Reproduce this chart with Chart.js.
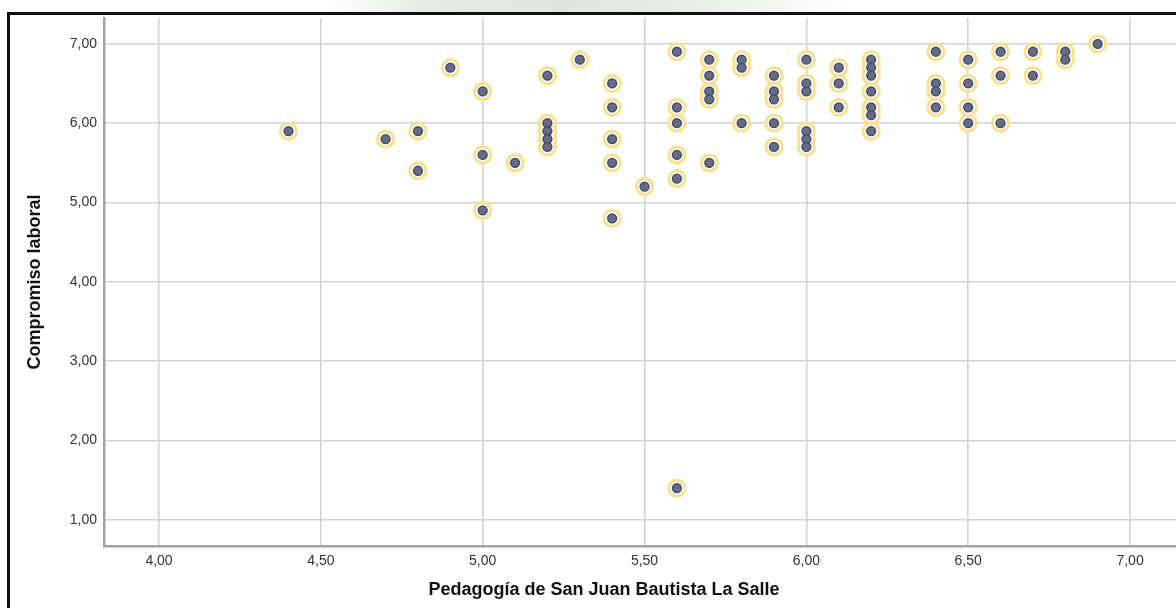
<!DOCTYPE html>
<html lang="es">
<head>
<meta charset="utf-8">
<title>Pedagogía de San Juan Bautista La Salle vs. Compromiso laboral</title>
<script src="https://cdn.jsdelivr.net/npm/chart.js@4.4.1/dist/chart.umd.min.js"></script>
<style>
  html, body { margin: 0; padding: 0; background: #ffffff; overflow: hidden; }
  #wrap { position: relative; width: 1176px; height: 608px; overflow: hidden; }
  #mark { position: absolute; top: 0; left: 330px; width: 520px; height: 13px;
          background: linear-gradient(100deg, rgba(255,255,255,0) 0%, #e6ebe5 18%, #dfe5de 45%, #e9ede8 70%, rgba(255,255,255,0) 100%); }
  #frame { position: absolute; left: 7px; top: 12px; width: 1300px; height: 700px;
           border-left: 3px solid #111; border-top: 3px solid #111; box-sizing: border-box; }
  canvas { position: absolute; left: 0; top: 0; }
</style>
</head>
<body>
<div id="wrap">
  <div id="mark"></div>
  <div id="frame"></div>
  <canvas id="c" width="1176" height="608"></canvas>
</div>
<script>
// Pedagogía de San Juan Bautista La Salle (x) and Compromiso laboral (y), one entry per respondent
const pedagogia = [
  4.4,
  4.7,
  4.8, 4.8,
  4.9,
  5.0, 5.0, 5.0,
  5.1,
  5.2, 5.2, 5.2, 5.2, 5.2,
  5.3,
  5.4, 5.4, 5.4, 5.4, 5.4,
  5.5,
  5.6, 5.6, 5.6, 5.6, 5.6, 5.6,
  5.7, 5.7, 5.7, 5.7, 5.7,
  5.8, 5.8, 5.8,
  5.9, 5.9, 5.9, 5.9, 5.9,
  6.0, 6.0, 6.0, 6.0, 6.0, 6.0,
  6.1, 6.1, 6.1,
  6.2, 6.2, 6.2, 6.2, 6.2, 6.2, 6.2,
  6.4, 6.4, 6.4, 6.4,
  6.5, 6.5, 6.5, 6.5,
  6.6, 6.6, 6.6,
  6.7, 6.7,
  6.8, 6.8,
  6.9
];
const compromiso = [
  5.9,
  5.8,
  5.9, 5.4,
  6.7,
  6.4, 5.6, 4.9,
  5.5,
  6.6, 6.0, 5.9, 5.8, 5.7,
  6.8,
  6.5, 6.2, 5.8, 5.5, 4.8,
  5.2,
  6.9, 6.2, 6.0, 5.6, 5.3, 1.4,
  6.8, 6.6, 6.4, 6.3, 5.5,
  6.8, 6.7, 6.0,
  6.6, 6.4, 6.3, 6.0, 5.7,
  6.8, 6.5, 6.4, 5.9, 5.8, 5.7,
  6.7, 6.5, 6.2,
  6.8, 6.7, 6.6, 6.4, 6.2, 6.1, 5.9,
  6.9, 6.5, 6.4, 6.2,
  6.8, 6.5, 6.2, 6.0,
  6.9, 6.6, 6.0,
  6.9, 6.6,
  6.9, 6.8,
  7.0
];

// Axis ticks and their printed labels
const xTicks = [4.0, 4.5, 5.0, 5.5, 6.0, 6.5, 7.0];
const xTickLabels = ['4,00', '4,50', '5,00', '5,50', '6,00', '6,50', '7,00'];
const yTicks = [1, 2, 3, 4, 5, 6, 7];
const yTickLabels = ['1,00', '2,00', '3,00', '4,00', '5,00', '6,00', '7,00'];

const xTitle = 'Pedagogía de San Juan Bautista La Salle';
const yTitle = 'Compromiso laboral';

const points = pedagogia.map((x, i) => ({ x: x, y: compromiso[i] }));

const FONT = "'Liberation Sans', Arial, Helvetica, sans-serif";
const gridColor = '#d3d3d3';
const axisColor = '#a3a3a3';

// x-axis title sits under the data, a little left of the axis centre
const xTitlePlugin = {
  id: 'xTitle',
  afterDraw(chart) {
    const { ctx, chartArea } = chart;
    ctx.save();
    ctx.font = 'bold 18px ' + FONT;
    ctx.fillStyle = '#111111';
    ctx.textAlign = 'center';
    ctx.textBaseline = 'middle';
    ctx.fillText(xTitle, chartArea.left + 500, 590);
    ctx.restore();
  }
};

new Chart(document.getElementById('c'), {
  type: 'scatter',
  data: {
    datasets: [
      { // inner marker
        data: points,
        pointRadius: 4.4,
        pointBackgroundColor: '#6c6c73',
        pointBorderColor: '#3a4c8f',
        pointBorderWidth: 1.5,
        pointHoverRadius: 4.4
      },
      { // white gap between marker and halo
        data: points,
        pointRadius: 6.6,
        pointBackgroundColor: '#ffffff',
        pointBorderWidth: 0,
        pointHoverRadius: 6.6
      },
      { // yellow halo
        data: points,
        pointRadius: 9.6,
        pointBackgroundColor: '#fbe08e',
        pointBorderWidth: 0,
        pointHoverRadius: 9.6
      }
    ]
  },
  options: {
    responsive: false,
    animation: false,
    events: [],
    layout: { autoPadding: false, padding: { left: 0, top: 18, right: 0, bottom: 0 } },
    plugins: {
      legend: { display: false },
      tooltip: { enabled: false },
      title: { display: false }
    },
    scales: {
      x: {
        type: 'linear',
        min: 3.830,
        max: 7.142,
        afterFit(scale) {
          scale.height = 62;
          scale.paddingLeft = 0;
          scale.paddingRight = 0;
        },
        afterBuildTicks(scale) { scale.ticks = xTicks.map(v => ({ value: v })); },
        grid: { color: gridColor, lineWidth: 1.6, drawTicks: false },
        border: { color: axisColor, width: 2.5 },
        ticks: {
          padding: 7,
          color: '#333333',
          font: { family: FONT, size: 14 },
          callback: (v, i) => xTickLabels[i]
        },
        title: { display: false }
      },
      y: {
        type: 'linear',
        min: 0.672,
        max: 7.325,
        afterFit(scale) {
          scale.width = 104;
          scale.paddingTop = 0;
          scale.paddingBottom = 0;
        },
        afterBuildTicks(scale) { scale.ticks = yTicks.map(v => ({ value: v })); },
        grid: { color: gridColor, lineWidth: 1.6, drawTicks: false },
        border: { color: axisColor, width: 2.5 },
        ticks: {
          padding: 7,
          color: '#333333',
          font: { family: FONT, size: 14 },
          callback: (v, i) => yTickLabels[i]
        },
        title: {
          display: true,
          text: yTitle,
          color: '#111111',
          font: { family: FONT, size: 18, weight: 'bold' },
          padding: { top: 24, bottom: 0 }
        }
      }
    }
  },
  plugins: [xTitlePlugin]
});
</script>
</body>
</html>
